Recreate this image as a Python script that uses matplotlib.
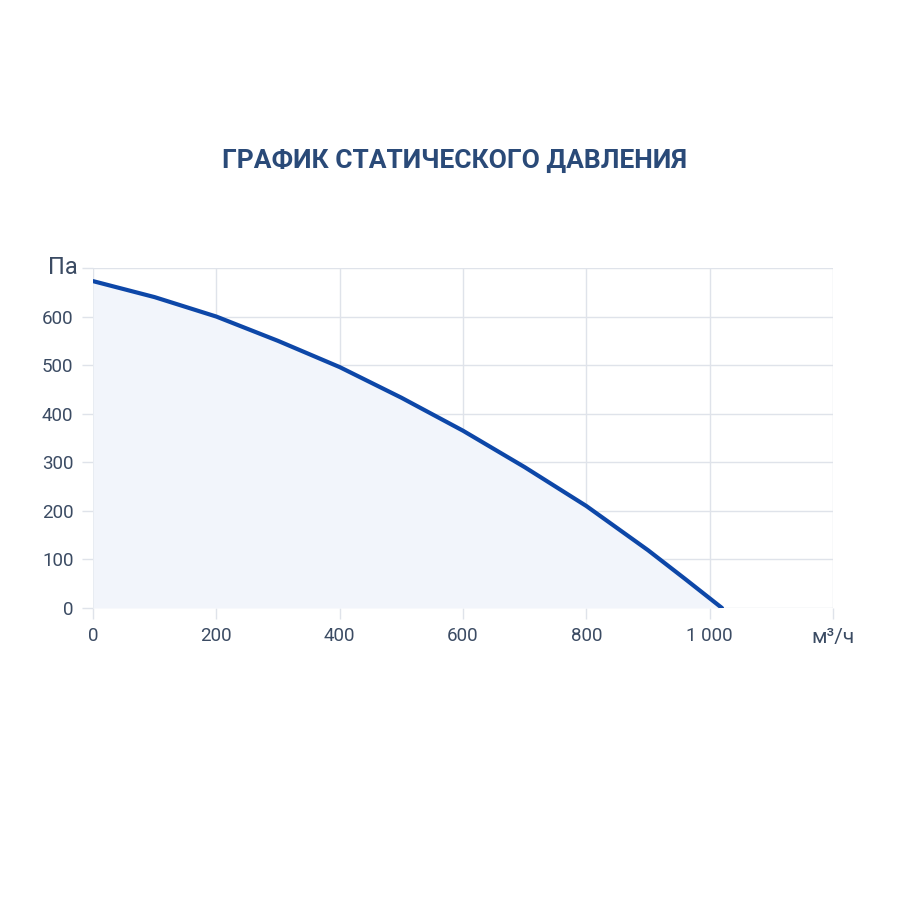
import numpy as np
import matplotlib.pyplot as plt

# curve
flow = [0, 100, 200, 300, 400, 500, 600, 700, 800, 900, 960, 1020]
pressure = [673, 640, 600, 550, 496, 433, 365, 290, 210, 119, 60, 0]
x_ticks = [0, 200, 400, 600, 800, 1000]
x_labels = ['0', '200', '400', '600', '800', '1 000']
y_ticks = [0, 100, 200, 300, 400, 500, 600]

plt.rcParams['font.family'] = ['Roboto', 'DejaVu Sans']
grid_c = '#dfe3ea'
text_c = '#3b4b63'

fig = plt.figure(figsize=(9, 9), dpi=100)
ax = fig.add_axes([93/900, 1-608/900, 740/900, 340/900])

ax.fill_between(flow, pressure, 0, color='#f2f5fb', lw=0)
ax.plot(flow, pressure, color='#0d47a8', lw=3, solid_capstyle='round',
        solid_joinstyle='round')

ax.set_xlim(0, 1200)
ax.set_ylim(0, 700)
ax.set_xticks(x_ticks + [1200])
ax.set_xticklabels(x_labels + [''])
ax.set_yticks(y_ticks + [700])
ax.set_yticklabels([str(v) for v in y_ticks] + [''])
ax.grid(True, color=grid_c, lw=1)
ax.set_axisbelow(True)
for s in ax.spines.values():
    s.set_visible(False)
ax.tick_params(axis='both', colors=grid_c, length=8, width=1, labelcolor=text_c,
               labelsize=13.5, pad=6)

fig.text(78/900, 1-267/900, 'Па', ha='right', va='center', fontsize=17, color=text_c)
fig.text(833/900, 1-638/900, 'м³/ч', ha='center', va='center', fontsize=15, color=text_c)
fig.text(454/900, 1-161/900, 'ГРАФИК СТАТИЧЕСКОГО ДАВЛЕНИЯ', ha='center', va='center',
         fontsize=19, fontweight='bold', color='#2a4a78')

fig.savefig('out.png', dpi=100, facecolor='white')
